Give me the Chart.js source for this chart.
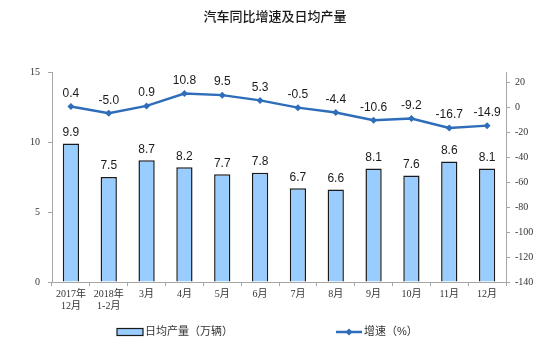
<!DOCTYPE html>
<html>
<head>
<meta charset="utf-8">
<script src="https://cdn.jsdelivr.net/npm/chart.js@4"></script>
<style>
  body { margin: 0; background: #fff; }
  #wrap { width: 550px; height: 352px; position: relative; }
</style>
</head>
<body>
<div id="wrap"><canvas id="autoChart"></canvas></div>
<script>
// 数据
const months = [['2017年', '12月'], ['2018年', '1-2月'], '3月', '4月', '5月', '6月', '7月', '8月', '9月', '10月', '11月', '12月'];
const dailyOutput = [9.9, 7.5, 8.7, 8.2, 7.7, 7.8, 6.7, 6.6, 8.1, 7.6, 8.6, 8.1];
const growthRate = [0.4, -5.0, 0.9, 10.8, 9.5, 5.3, -0.5, -4.4, -10.6, -9.2, -16.7, -14.9];
const leftTicks = [0, 5, 10, 15];
const rightTicks = [-140, -120, -100, -80, -60, -40, -20, 0, 20];

const barFill = '#99CCFF';
const lineBlue = '#2E6DBA';
const axisGray = '#A6A6A6';
const serif = '"Liberation Serif", "Noto Sans CJK SC", serif';
const sans = '"Liberation Sans", "Noto Sans CJK SC", sans-serif';

// 数值标签 (dataset 0 = 折线, dataset 1 = 柱)
const valueLabels = {
    id: 'valueLabels',
    afterDatasetsDraw(chart) {
        const ctx = chart.ctx;
        ctx.save();
        ctx.font = '12px ' + sans;
        ctx.fillStyle = '#1a1a1a';
        ctx.textAlign = 'center';
        ctx.textBaseline = 'middle';
        chart.getDatasetMeta(1).data.forEach((el, i) => {
            ctx.fillText(dailyOutput[i].toFixed(1), el.x, el.y - 11);
        });
        chart.getDatasetMeta(0).data.forEach((el, i) => {
            ctx.fillText(growthRate[i].toFixed(1), el.x, el.y - 13);
        });
        ctx.restore();
    }
};

// 图例
const bottomLegend = {
    id: 'bottomLegend',
    afterDraw(chart) {
        const ctx = chart.ctx;
        const y = 332;
        ctx.save();
        ctx.fillStyle = barFill;
        ctx.strokeStyle = '#1a1a1a';
        ctx.lineWidth = 1.2;
        ctx.fillRect(117, y - 3.5, 26, 7);
        ctx.strokeRect(117, y - 3.5, 26, 7);
        ctx.font = '11px ' + sans;
        ctx.fillStyle = '#333';
        ctx.textBaseline = 'middle';
        ctx.fillText('日均产量（万辆）', 145, y);

        ctx.strokeStyle = lineBlue;
        ctx.lineWidth = 2.5;
        ctx.beginPath();
        ctx.moveTo(336, y);
        ctx.lineTo(362, y);
        ctx.stroke();
        ctx.fillStyle = lineBlue;
        ctx.beginPath();
        ctx.moveTo(349, y - 3.5);
        ctx.lineTo(352.5, y);
        ctx.lineTo(349, y + 3.5);
        ctx.lineTo(345.5, y);
        ctx.closePath();
        ctx.fill();
        ctx.fillStyle = '#333';
        ctx.fillText('增速（%）', 364, y);
        ctx.restore();
    }
};

const ctx = document.getElementById('autoChart').getContext('2d');
new Chart(ctx, {
    data: {
        labels: months,
        datasets: [
            {
                type: 'line',
                label: '增速（%）',
                data: growthRate,
                yAxisID: 'y2',
                borderColor: lineBlue,
                backgroundColor: lineBlue,
                borderWidth: 2.5,
                pointStyle: 'rectRot',
                pointRadius: 3.5,
                pointBorderWidth: 0,
                tension: 0,
                order: 0
            },
            {
                type: 'bar',
                label: '日均产量（万辆）',
                data: dailyOutput,
                yAxisID: 'y',
                backgroundColor: barFill,
                borderColor: '#1a1a1a',
                borderWidth: 1.5,
                categoryPercentage: 1,
                barPercentage: 0.43,
                order: 1
            }
        ]
    },
    options: {
        responsive: true,
        maintainAspectRatio: false,
        animation: false,
        layout: { padding: { left: 0, right: 0, top: 0, bottom: 30 } },
        plugins: {
            legend: { display: false },
            tooltip: { enabled: false },
            title: {
                display: true,
                text: '汽车同比增速及日均产量',
                color: '#1a1a1a',
                font: { size: 13, weight: '500', family: sans },
                padding: { top: 10, bottom: 46.4 }
            }
        },
        scales: {
            x: {
                offset: true,
                grid: { drawOnChartArea: false, offset: true, color: axisGray, tickLength: 4 },
                border: { color: axisGray },
                ticks: {
                    autoSkip: false,
                    maxRotation: 0,
                    padding: 2,
                    color: '#333',
                    font: { size: 10, family: serif, lineHeight: 1.2 }
                },
                afterFit(scale) { scale.height = 40; }
            },
            y: {
                position: 'left',
                min: 0,
                max: 15,
                afterBuildTicks(axis) { axis.ticks = leftTicks.map(v => ({ value: v })); },
                grid: { drawOnChartArea: false, color: axisGray, tickLength: 4 },
                border: { color: axisGray },
                ticks: { color: '#333', padding: 8, font: { size: 10, family: serif } },
                afterFit(scale) { scale.width = 52; }
            },
            y2: {
                position: 'right',
                min: -140,
                max: 28,
                afterBuildTicks(axis) { axis.ticks = rightTicks.map(v => ({ value: v })); },
                grid: { drawOnChartArea: false, color: axisGray, tickLength: 4 },
                border: { color: axisGray },
                ticks: { color: '#333', padding: 5, font: { size: 10, family: serif } },
                afterFit(scale) { scale.width = 44; }
            }
        }
    },
    plugins: [valueLabels, bottomLegend]
});
</script>
</body>
</html>
